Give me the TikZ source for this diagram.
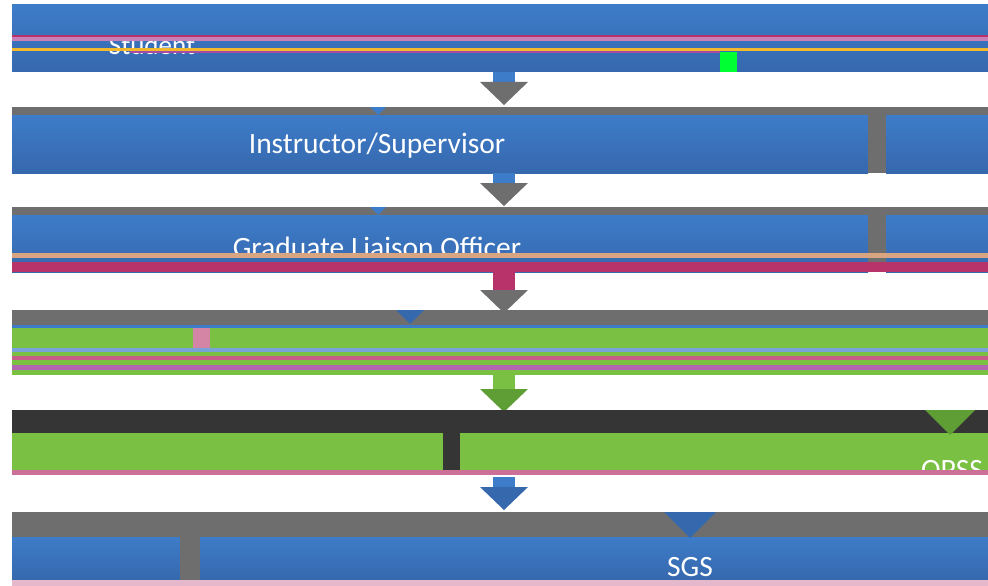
\documentclass[tikz,border=0pt]{standalone}
\usepackage{fontspec}
\setmainfont{Carlito}
\definecolor{bblue}{HTML}{3D7CC9}
\definecolor{bbluedk}{HTML}{3668AD}
\definecolor{ggray}{HTML}{6E6E6E}
\definecolor{ggreen}{HTML}{7AC143}
\definecolor{ggreendk}{HTML}{5E9E34}
\definecolor{mmag}{HTML}{B8336A}
\definecolor{ddark}{HTML}{353535}
\definecolor{ppink}{HTML}{C97FB8}
\definecolor{yyel}{HTML}{F2B92C}
\tikzset{
  bar/.style={top color=bblue, bottom color=bbluedk, draw=none},
  gbar/.style={fill=ggreen, draw=none},
  strip/.style={fill=ggray, draw=none},
  lbl/.style={text=white, inner sep=0pt, font=\fontsize{29.5}{32}\selectfont},
  pics/darr/.style n args={3}{code={
    \fill[#1] (-11,0) rectangle (11,#3);
    \fill[#2] (-24,#3) -- (24,#3) -- (0,#3+23) -- cycle;}},
  pics/tri/.style n args={2}{code={
    \fill[#1] (-#2,0) -- (#2,0) -- (0,#2) -- cycle;}}
}
\begin{document}
\begin{tikzpicture}[x=1pt,y=-1pt]
\useasboundingbox (0,0) rectangle (988,586);
\fill[white] (0,0) rectangle (988,586);
% ---- row 1 : Student
\shade[bar] (12,5) rectangle (988,72);
\node[lbl, font=\fontsize{27}{30}\selectfont] (student) at (152,45) {Student};
\fill[mmag] (12,35) rectangle (988,37);
\fill[ppink] (12,37) rectangle (988,41);
\fill[yyel] (12,48) rectangle (988,51);
\fill[violet!70] (130,51) rectangle (720,53);
\fill[green!80!cyan] (720,52) rectangle (737,72);
\pic at (504,72) {darr={bblue}{ggray}{10}};
% ---- row 2 : Instructor/Supervisor
\fill[strip] (12,107) rectangle (988,115);
\shade[bar] (12,115) rectangle (868,173);
\shade[bar] (886,115) rectangle (988,173);
\fill[ggray] (868,107) rectangle (886,173);
\pic at (378,107) {tri={bblue}{8}};
\node[lbl] (instr) at (377,146) {Instructor/Supervisor};
\pic at (504,173) {darr={bblue}{ggray}{10}};
% ---- row 3 : Graduate Liaison Officer
\fill[strip] (12,207) rectangle (988,215);
\shade[bar] (12,215) rectangle (868,272);
\shade[bar] (886,215) rectangle (988,272);
\fill[ggray] (868,207) rectangle (886,262);
\pic at (378,207) {tri={bblue}{8}};
\node[lbl] (glo) at (377,247) {Graduate Liaison Officer};
\fill[ppink!70!yellow] (12,253) rectangle (988,258);
\fill[mmag] (12,262) rectangle (988,272);
\pic at (504,272) {darr={mmag}{ggray}{18}};
% ---- row 4
\fill[strip] (12,310) rectangle (988,325);
\fill[bblue] (12,325) rectangle (988,328);
\fill[gbar] (12,328) rectangle (988,375);
\fill[mmag!60] (193,328) rectangle (210,350);
\pic at (410,310) {tri={bbluedk}{14}};
\fill[bblue!70] (12,348) rectangle (988,352);
\fill[mmag!80] (12,356) rectangle (988,360);
\fill[violet!60] (12,365) rectangle (988,370);
\pic at (504,375) {darr={ggreen}{ggreendk}{14}};
% ---- row 5 : OPSS
\fill[ddark] (12,410) rectangle (988,433);
\fill[gbar] (12,433) rectangle (443,470);
\fill[gbar] (460,433) rectangle (988,470);
\fill[ddark] (443,433) rectangle (460,470);
\pic at (950,410) {tri={ggreendk}{25}};
\node[lbl, anchor=south] (opss) at (952,480) {OPSS};
\fill[mmag!70] (12,470) rectangle (988,475);
\pic at (504,477) {darr={bblue}{bbluedk}{10}};
% ---- row 6 : SGS
\fill[strip] (12,512) rectangle (988,537);
\shade[bar] (12,537) rectangle (180,580);
\shade[bar] (200,537) rectangle (988,580);
\fill[ggray] (180,537) rectangle (200,580);
\pic at (690,512) {tri={bbluedk}{26}};
\node[lbl] (sgs) at (690,567) {SGS};
\fill[mmag!35] (12,580) rectangle (988,586);
\end{tikzpicture}
\end{document}
